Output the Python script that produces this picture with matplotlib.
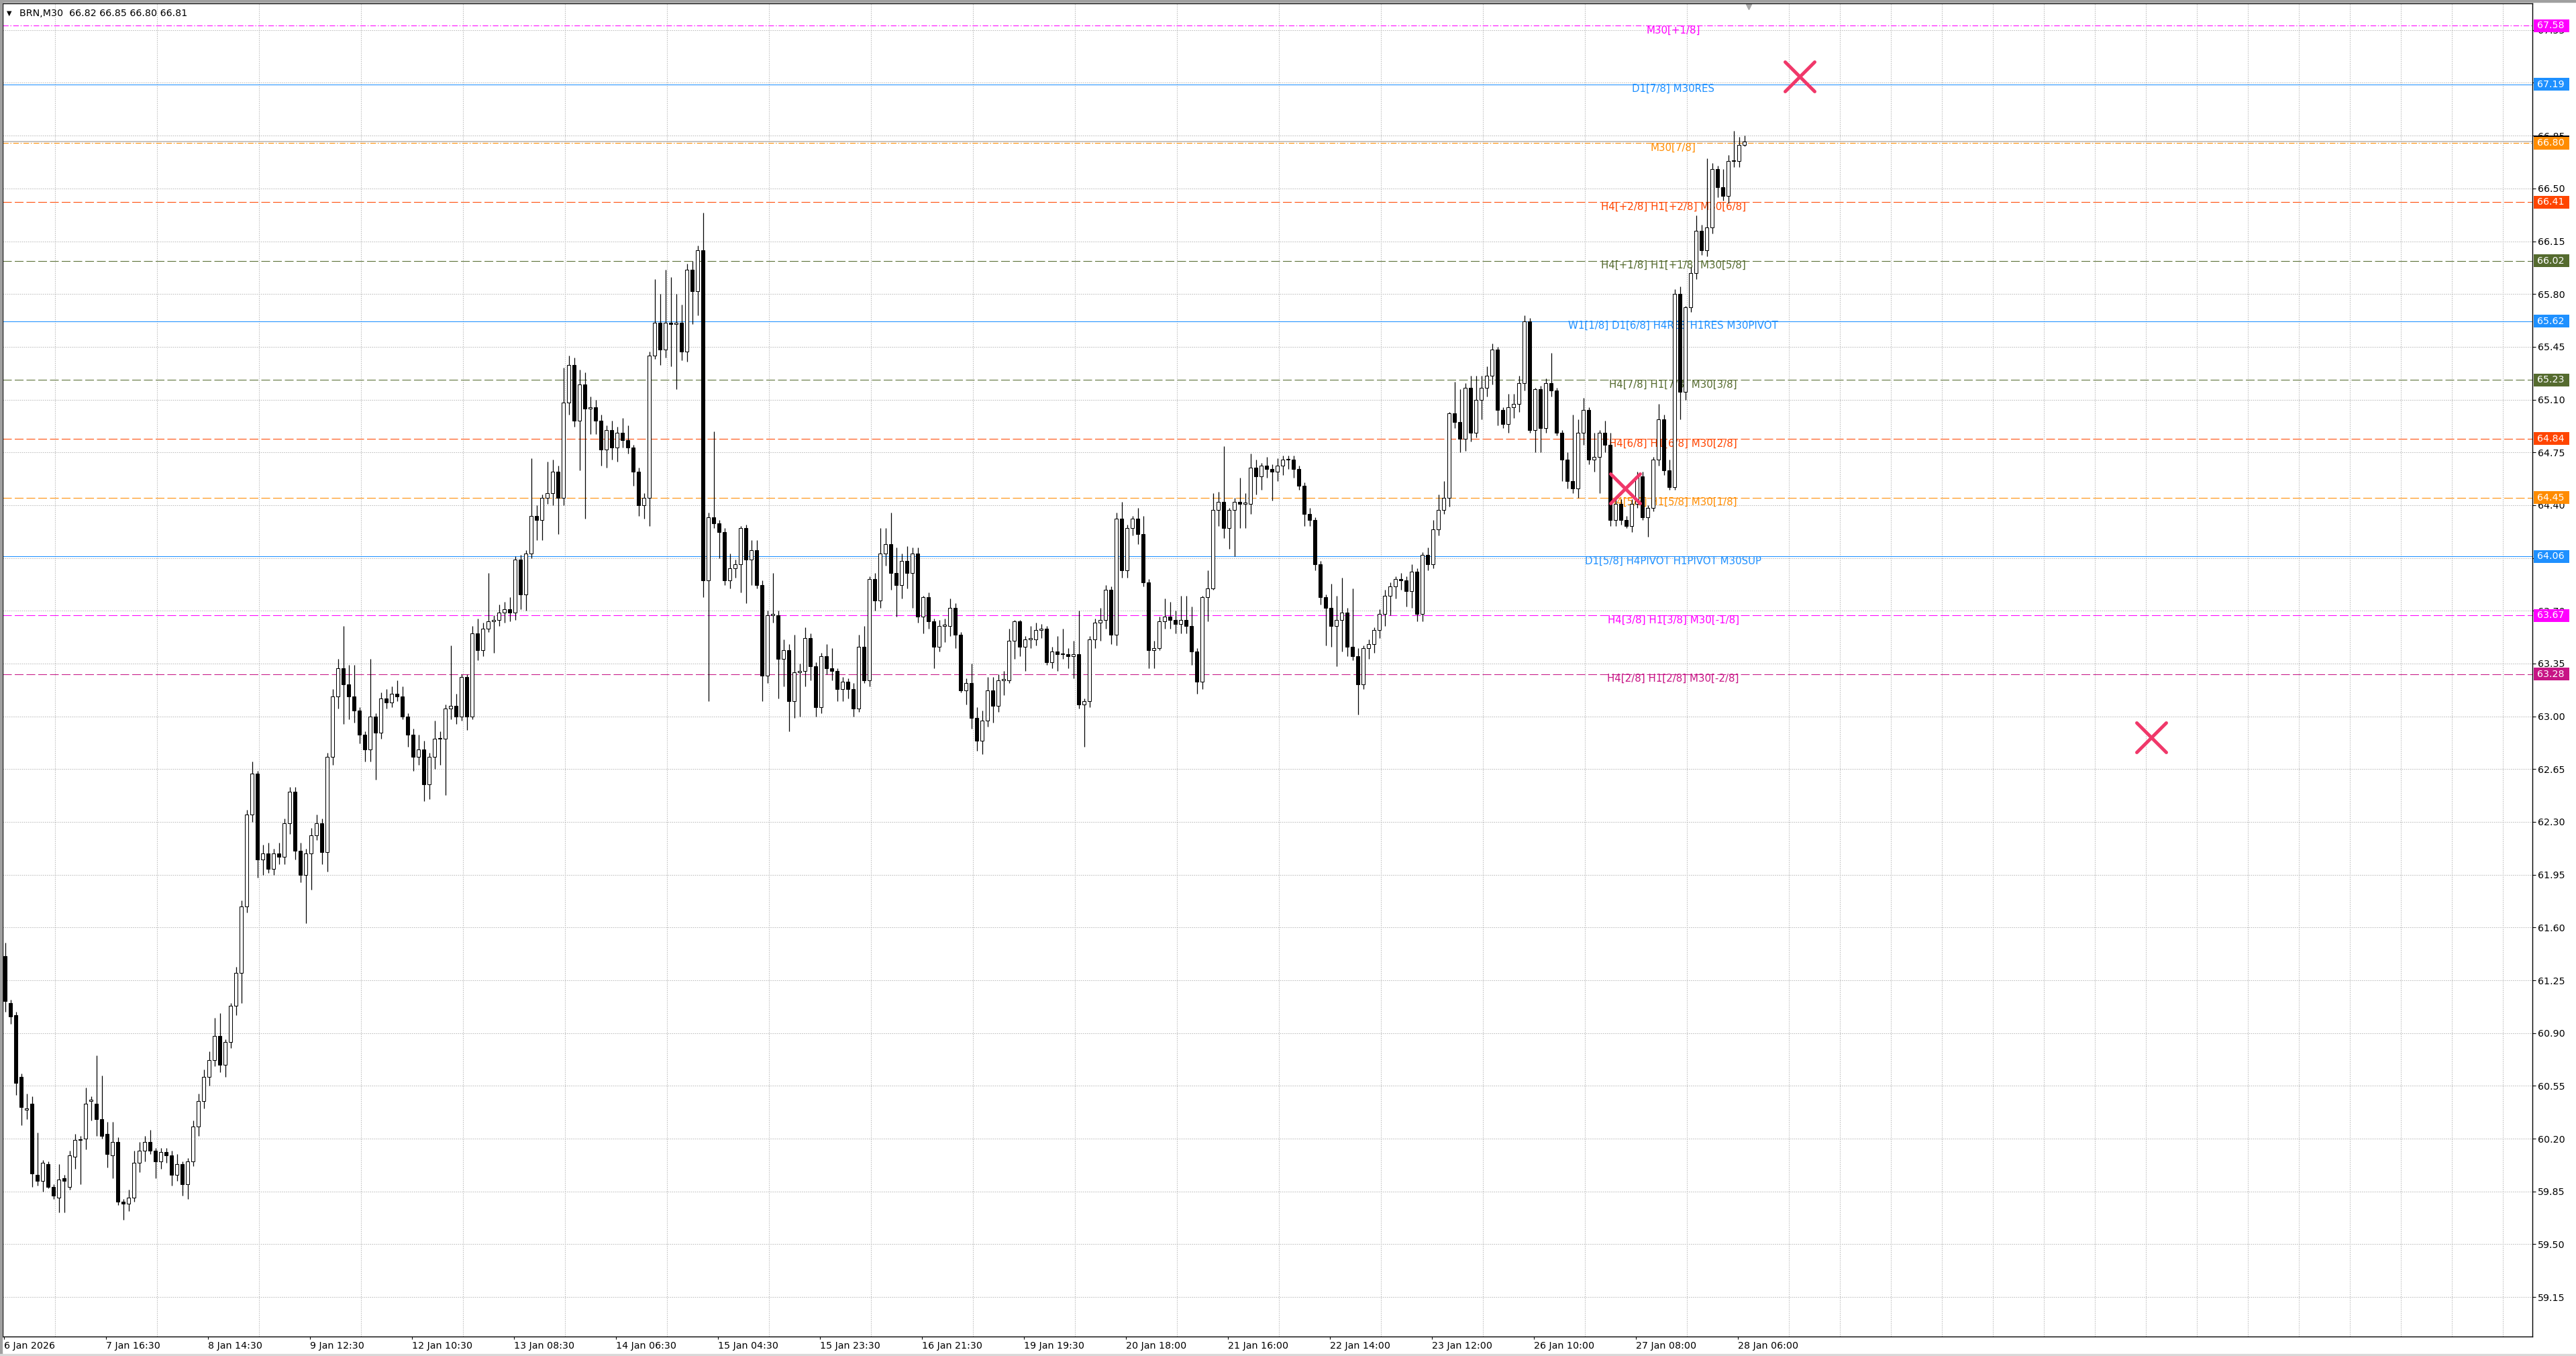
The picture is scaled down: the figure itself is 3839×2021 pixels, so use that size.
import numpy as np
import matplotlib.pyplot as plt
import matplotlib.transforms as mtransforms
from matplotlib.markers import MarkerStyle
from matplotlib.patches import Rectangle

plt.rcParams['font.family'] = ['DejaVu Sans']

# BRN M30 per candle
opens = [61.41, 61.10, 61.02, 60.61, 60.39, 60.43, 59.96, 59.92, 60.03, 59.88,
         59.81, 59.94, 59.88, 60.08, 60.19, 60.20, 60.45, 60.43, 60.33, 60.23,
         60.09, 60.18, 59.78, 59.77, 59.81, 60.04, 60.12, 60.18, 60.12, 60.05,
         60.11, 60.09, 59.96, 60.03, 59.90, 60.05, 60.28, 60.45, 60.61, 60.72,
         60.88, 60.69, 60.84, 61.08, 61.30, 61.74, 62.35, 62.62, 62.05, 62.09,
         61.99, 62.09, 62.07, 62.29, 62.50, 62.11, 61.95, 62.09, 62.21, 62.29,
         62.10, 62.73, 63.13, 63.32, 63.21, 63.13, 63.04, 62.88, 62.78, 63.00,
         62.89, 63.12, 63.09, 63.15, 63.13, 63.00, 62.88, 62.73, 62.78, 62.55,
         62.73, 62.85, 62.85, 63.05, 63.07, 63.00, 63.26, 63.00, 63.55, 63.44,
         63.58, 63.63, 63.64, 63.69, 63.71, 63.69, 64.04, 63.81, 64.08, 64.33,
         64.30, 64.45, 64.48, 64.62, 64.45, 65.08, 65.33, 64.96, 65.20, 65.04,
         65.05, 64.96, 64.77, 64.90, 64.78, 64.88, 64.83, 64.78, 64.62, 64.40,
         64.45, 65.39, 65.61, 65.43, 65.61, 65.60, 65.61, 65.42, 65.96, 65.82,
         66.09, 63.90, 64.32, 64.28, 64.22, 63.90, 63.98, 64.01, 64.25, 64.04,
         64.10, 63.87, 63.27, 63.67, 63.67, 63.38, 63.44, 63.10, 63.29, 63.30,
         63.52, 63.33, 63.06, 63.40, 63.32, 63.30, 63.18, 63.23, 63.18, 63.05,
         63.46, 63.24, 63.91, 63.77, 64.08, 64.14, 63.95, 63.87, 64.03, 63.95,
         64.08, 63.66, 63.79, 63.63, 63.46, 63.60, 63.60, 63.72, 63.54, 63.17,
         63.22, 62.99, 62.84, 62.97, 63.17, 63.07, 63.24, 63.24, 63.50, 63.63,
         63.46, 63.51, 63.51, 63.57, 63.58, 63.36, 63.43, 63.41, 63.41, 63.40,
         63.41, 63.08, 63.10, 63.51, 63.62, 63.64, 63.84, 63.54, 64.31, 63.97,
         64.25, 64.31, 64.21, 63.89, 63.44, 63.45, 63.63, 63.66, 63.64, 63.61,
         63.64, 63.60, 63.43, 63.23, 63.79, 63.85, 64.37, 64.42, 64.25, 64.37,
         64.42, 64.41, 64.41, 64.65, 64.59, 64.66, 64.64, 64.62, 64.66, 64.70,
         64.70, 64.64, 64.53, 64.34, 64.30, 64.01, 63.79, 63.72, 63.60, 63.64,
         63.69, 63.46, 63.40, 63.21, 63.45, 63.48, 63.57, 63.68, 63.80, 63.86,
         63.91, 63.90, 63.83, 63.96, 63.68, 64.07, 64.01, 64.24, 64.37, 64.45,
         65.01, 64.95, 64.84, 65.18, 64.88, 65.10, 65.18, 65.26, 65.43, 65.03,
         64.94, 65.05, 65.07, 65.21, 65.62, 64.90, 65.17, 64.91, 65.21, 65.16,
         64.88, 64.70, 64.56, 64.51, 64.88, 65.03, 64.70, 64.72, 64.88, 64.80,
         64.30, 64.41, 64.30, 64.26, 64.41, 64.59, 64.32, 64.38, 64.70, 64.97,
         64.63, 64.52, 65.80, 65.15, 65.71, 65.94, 66.22, 66.09, 66.24, 66.63,
         66.51, 66.45, 66.68, 66.68, 66.79]
highs = [61.50, 61.12, 61.04, 60.63, 60.50, 60.48, 60.24, 60.06, 60.05, 59.90,
         60.03, 59.96, 60.12, 60.23, 60.22, 60.54, 60.48, 60.75, 60.62, 60.31,
         60.31, 60.21, 59.80, 59.86, 60.12, 60.18, 60.22, 60.26, 60.14, 60.14,
         60.14, 60.12, 60.10, 60.05, 60.07, 60.32, 60.50, 60.66, 60.78, 61.00,
         61.03, 60.86, 61.10, 61.34, 61.78, 62.38, 62.70, 62.64, 62.15, 62.16,
         62.12, 62.16, 62.32, 62.53, 62.53, 62.16, 62.12, 62.26, 62.35, 62.32,
         62.76, 63.18, 63.38, 63.60, 63.34, 63.34, 63.06, 62.90, 63.38, 63.02,
         63.16, 63.18, 63.20, 63.24, 63.20, 63.02, 62.92, 62.88, 62.84, 62.76,
         62.97, 62.90, 63.08, 63.47, 63.15, 63.28, 63.28, 63.60, 63.65, 63.62,
         63.95, 63.67, 63.74, 63.76, 63.79, 64.06, 64.07, 64.10, 64.71, 64.40,
         64.47, 64.69, 64.70, 64.66, 65.31, 65.39, 65.38, 65.30, 65.28, 65.12,
         65.10, 65.00, 64.93, 64.96, 64.92, 64.98, 64.93, 64.80, 64.65, 64.48,
         65.42, 65.90, 65.80, 65.96, 65.91, 65.80, 65.73, 66.00, 66.02, 66.12,
         66.34, 64.35, 64.89, 64.30, 64.25, 64.08, 64.04, 64.26, 64.27, 64.17,
         64.17, 63.90, 63.70, 63.95, 63.70, 63.51, 63.48, 63.54, 63.35, 63.59,
         63.55, 63.36, 63.42, 63.48, 63.45, 63.32, 63.26, 63.25, 63.22, 63.54,
         63.60, 63.93, 63.95, 64.25, 64.25, 64.35, 64.12, 64.08, 64.13, 64.12,
         64.12, 63.80, 63.82, 63.65, 63.64, 63.65, 63.78, 63.75, 63.56, 63.25,
         63.35, 63.06, 63.04, 63.26, 63.26, 63.28, 63.30, 63.58, 63.64, 63.64,
         63.53, 63.60, 63.62, 63.61, 63.60, 63.46, 63.53, 63.58, 63.45, 63.50,
         63.70, 63.12, 63.53, 63.65, 63.72, 63.87, 63.86, 64.35, 64.42, 64.27,
         64.33, 64.38, 64.33, 63.91, 63.50, 63.66, 63.78, 63.76, 63.70, 63.80,
         63.80, 63.73, 63.45, 63.80, 63.97, 64.48, 64.49, 64.79, 64.38, 64.45,
         64.58, 64.48, 64.74, 64.70, 64.68, 64.72, 64.67, 64.71, 64.73, 64.73,
         64.73, 64.66, 64.55, 64.38, 64.32, 64.03, 63.81, 63.88, 63.80, 63.92,
         63.72, 63.85, 63.45, 63.47, 63.51, 63.59, 63.71, 63.84, 63.89, 63.93,
         63.95, 63.93, 64.01, 63.98, 64.09, 64.12, 64.30, 64.47, 64.56, 65.02,
         65.22, 65.17, 65.21, 65.26, 65.26, 65.26, 65.32, 65.47, 65.45, 65.05,
         65.14, 65.14, 65.26, 65.66, 65.64, 65.18, 65.19, 65.24, 65.41, 65.18,
         64.90, 64.75, 65.00, 64.97, 65.11, 65.05, 64.88, 64.90, 64.96, 64.88,
         64.44, 64.44, 64.33, 64.44, 64.62, 64.62, 64.40, 64.72, 65.07, 65.00,
         64.70, 65.83, 65.85, 65.72, 65.98, 66.32, 66.26, 66.70, 66.67, 66.65,
         66.63, 66.72, 66.88, 66.84, 66.85]
lows = [61.04, 60.96, 60.49, 60.29, 60.33, 59.88, 59.89, 59.85, 59.87, 59.80,
        59.71, 59.71, 59.86, 60.00, 59.90, 60.13, 60.32, 60.22, 60.20, 60.01,
        59.94, 59.76, 59.66, 59.72, 59.78, 59.98, 60.05, 60.10, 59.94, 60.00,
        60.04, 59.89, 59.92, 59.82, 59.80, 60.02, 60.22, 60.40, 60.55, 60.68,
        60.64, 60.61, 60.80, 61.02, 61.10, 61.70, 62.30, 61.93, 61.95, 61.96,
        61.95, 62.02, 62.02, 62.22, 62.05, 61.90, 61.63, 61.85, 62.18, 62.02,
        61.97, 62.68, 63.05, 62.95, 62.98, 62.96, 62.82, 62.70, 62.70, 62.58,
        62.85, 63.05, 63.06, 63.10, 62.98, 62.80, 62.64, 62.68, 62.44, 62.45,
        62.65, 62.68, 62.48, 62.98, 62.95, 62.97, 62.91, 62.98, 63.37, 63.40,
        63.56, 63.42, 63.60, 63.62, 63.63, 63.64, 63.71, 63.70, 64.05, 64.17,
        64.17, 64.41, 64.40, 64.21, 64.40, 65.00, 64.92, 64.63, 64.31, 64.87,
        64.87, 64.66, 64.65, 64.70, 64.69, 64.78, 64.74, 64.53, 64.33, 64.31,
        64.26, 65.37, 65.33, 65.38, 65.32, 65.17, 65.36, 65.35, 65.60, 65.66,
        63.79, 63.10, 64.25, 64.05, 63.87, 63.85, 63.92, 63.82, 63.75, 63.87,
        63.85, 63.10, 63.22, 63.62, 63.12, 63.20, 62.90, 62.99, 63.00, 63.20,
        63.24, 63.00, 63.02, 63.28, 63.24, 63.10, 63.10, 63.12, 63.00, 63.03,
        63.22, 63.20, 63.70, 63.72, 64.00, 63.84, 63.66, 63.78, 63.85, 63.72,
        63.62, 63.55, 63.58, 63.32, 63.43, 63.49, 63.53, 63.45, 63.16, 63.08,
        62.92, 62.77, 62.75, 62.93, 62.96, 63.03, 63.14, 63.22, 63.38, 63.40,
        63.30, 63.45, 63.47, 63.52, 63.34, 63.32, 63.30, 63.38, 63.32, 63.25,
        63.05, 62.80, 63.06, 63.45, 63.50, 63.58, 63.48, 63.47, 63.92, 63.92,
        64.20, 64.14, 63.86, 63.32, 63.32, 63.44, 63.58, 63.58, 63.55, 63.55,
        63.55, 63.34, 63.15, 63.18, 63.63, 63.84, 64.26, 64.18, 64.11, 64.06,
        64.25, 64.25, 64.34, 64.47, 64.50, 64.58, 64.43, 64.56, 64.60, 64.64,
        64.58, 64.50, 64.26, 64.26, 63.97, 63.74, 63.47, 63.46, 63.33, 63.43,
        63.40, 63.37, 63.01, 63.18, 63.38, 63.42, 63.52, 63.60, 63.67, 63.78,
        63.84, 63.73, 63.72, 63.63, 63.63, 63.97, 63.98, 64.20, 64.34, 64.39,
        64.91, 64.75, 64.76, 64.82, 64.85, 64.97, 65.12, 65.20, 64.93, 64.91,
        64.88, 64.98, 65.02, 65.16, 64.88, 64.75, 64.75, 64.88, 65.12, 64.86,
        64.56, 64.51, 64.48, 64.45, 64.80, 64.67, 64.62, 64.48, 64.75, 64.26,
        64.26, 64.27, 64.25, 64.22, 64.38, 64.30, 64.19, 64.36, 64.66, 64.60,
        64.50, 64.50, 64.97, 65.10, 65.68, 65.90, 66.06, 66.05, 66.20, 66.44,
        66.42, 66.40, 66.64, 66.64, 66.78]
closes = [61.11, 61.01, 60.57, 60.41, 60.40, 59.97, 59.92, 60.04, 59.88, 59.82,
          59.93, 59.92, 60.09, 60.19, 60.19, 60.43, 60.45, 60.33, 60.22, 60.10,
          60.18, 59.78, 59.77, 59.81, 60.04, 60.12, 60.18, 60.12, 60.05, 60.11,
          60.09, 59.96, 60.03, 59.90, 60.05, 60.28, 60.45, 60.61, 60.72, 60.88,
          60.69, 60.84, 61.08, 61.30, 61.74, 62.35, 62.62, 62.05, 62.09, 61.99,
          62.09, 62.07, 62.29, 62.50, 62.11, 61.95, 62.09, 62.21, 62.29, 62.10,
          62.73, 63.13, 63.32, 63.21, 63.13, 63.04, 62.88, 62.78, 63.00, 62.89,
          63.12, 63.09, 63.15, 63.13, 63.00, 62.88, 62.73, 62.78, 62.55, 62.73,
          62.85, 62.85, 63.05, 63.07, 63.00, 63.26, 63.00, 63.55, 63.44, 63.58,
          63.63, 63.64, 63.69, 63.71, 63.69, 64.04, 63.81, 64.08, 64.33, 64.30,
          64.45, 64.48, 64.62, 64.45, 65.08, 65.33, 64.96, 65.20, 65.04, 65.05,
          64.96, 64.77, 64.90, 64.78, 64.88, 64.83, 64.78, 64.62, 64.40, 64.45,
          65.39, 65.61, 65.43, 65.61, 65.60, 65.61, 65.42, 65.96, 65.82, 66.09,
          63.90, 64.32, 64.28, 64.22, 63.90, 63.98, 64.01, 64.25, 64.04, 64.10,
          63.87, 63.27, 63.67, 63.67, 63.38, 63.44, 63.10, 63.29, 63.30, 63.52,
          63.33, 63.06, 63.40, 63.32, 63.30, 63.18, 63.23, 63.18, 63.05, 63.46,
          63.24, 63.91, 63.77, 64.08, 64.14, 63.95, 63.87, 64.03, 63.95, 64.08,
          63.66, 63.79, 63.63, 63.46, 63.60, 63.60, 63.72, 63.54, 63.17, 63.22,
          62.99, 62.84, 62.97, 63.17, 63.07, 63.24, 63.24, 63.50, 63.63, 63.46,
          63.51, 63.51, 63.57, 63.58, 63.36, 63.43, 63.41, 63.41, 63.40, 63.41,
          63.08, 63.10, 63.51, 63.62, 63.64, 63.84, 63.54, 64.31, 63.97, 64.25,
          64.31, 64.21, 63.89, 63.44, 63.45, 63.63, 63.66, 63.64, 63.61, 63.64,
          63.60, 63.43, 63.23, 63.79, 63.85, 64.37, 64.42, 64.25, 64.37, 64.42,
          64.41, 64.41, 64.65, 64.59, 64.66, 64.64, 64.62, 64.66, 64.70, 64.70,
          64.64, 64.53, 64.34, 64.30, 64.01, 63.79, 63.72, 63.60, 63.64, 63.69,
          63.46, 63.40, 63.21, 63.45, 63.48, 63.57, 63.68, 63.80, 63.86, 63.91,
          63.90, 63.83, 63.96, 63.68, 64.07, 64.01, 64.24, 64.37, 64.45, 65.01,
          64.95, 64.84, 65.18, 64.88, 65.10, 65.18, 65.26, 65.43, 65.03, 64.94,
          65.05, 65.07, 65.21, 65.62, 64.90, 65.17, 64.91, 65.21, 65.16, 64.88,
          64.70, 64.56, 64.51, 64.88, 65.03, 64.70, 64.72, 64.88, 64.80, 64.30,
          64.41, 64.30, 64.26, 64.41, 64.59, 64.32, 64.38, 64.70, 64.97, 64.63,
          64.52, 65.80, 65.15, 65.71, 65.94, 66.22, 66.09, 66.24, 66.63, 66.51,
          66.45, 66.68, 66.68, 66.79, 66.81]

symbol = 'BRN,M30'
live_bar = [66.82, 66.85, 66.80, 66.81]

level_prices = [67.58, 67.19, 66.80, 66.41, 66.02, 65.62, 65.23, 64.84, 64.45, 64.06, 63.67, 63.28]
level_names = ['M30[+1/8]', 'D1[7/8] M30RES', 'M30[7/8]',
               'H4[+2/8] H1[+2/8] M30[6/8]', 'H4[+1/8] H1[+1/8] M30[5/8]',
               'W1[1/8] D1[6/8] H4RES H1RES M30PIVOT', 'H4[7/8] H1[7/8] M30[3/8]',
               'H4[6/8] H1[6/8] M30[2/8]', 'H4[5/8] H1[5/8] M30[1/8]',
               'D1[5/8] H4PIVOT H1PIVOT M30SUP', 'H4[3/8] H1[3/8] M30[-1/8]',
               'H4[2/8] H1[2/8] M30[-2/8]']
level_colors = ['#ff00ff', '#1e90ff', '#ff8c00', '#ff4500', '#556b2f', '#1e90ff',
                '#556b2f', '#ff4500', '#ff8c00', '#1e90ff', '#ff00ff', '#c71585']
level_kinds = ['dashdot', 'solid', 'dashdot', 'dash', 'dash', 'solid',
               'dash', 'dash', 'dash', 'solid', 'dash', 'dash']

price_ticks = [59.15, 59.50, 59.85, 60.20, 60.55, 60.90, 61.25, 61.60, 61.95, 62.30,
               62.65, 63.00, 63.35, 63.70, 64.05, 64.40, 64.75, 65.10, 65.45, 65.80,
               66.15, 66.50, 66.85, 67.20, 67.55]
time_labels = ['6 Jan 2026', '7 Jan 16:30', '8 Jan 14:30', '9 Jan 12:30', '12 Jan 10:30',
               '13 Jan 08:30', '14 Jan 06:30', '15 Jan 04:30', '15 Jan 23:30', '16 Jan 21:30',
               '19 Jan 19:30', '20 Jan 18:00', '21 Jan 16:00', '22 Jan 14:00', '23 Jan 12:00',
               '26 Jan 10:00', '27 Jan 08:00', '28 Jan 06:00']
bars_per_label = 38
bars_per_grid = 19

cross_bars = [669, 604, 800]
cross_prices = [67.24, 64.51, 62.86]
label_bar = 622

W, H = 3839, 2021
fig = plt.figure(figsize=(W / 100, H / 100), dpi=100)
fig.patch.set_facecolor('white')
ax = fig.add_axes([4 / W, 29 / H, 3770 / W, 1987 / H])
ax.set_xlim(-0.375, 942.1)
ax.set_ylim(58.888, 67.727)

# candles
o = np.array(opens); hi = np.array(highs); lo = np.array(lows); c = np.array(closes)
x = np.arange(len(o)) * 2 + 0.5
ax.vlines(x, lo, hi, color='black', lw=0.9, zorder=3)
faces = ['white' if cc >= oo else 'black' for oo, cc in zip(o, c)]
ax.bar(x, np.maximum(np.abs(c - o), 0.008), bottom=np.minimum(o, c), width=1.35,
       color=faces, edgecolor='black', linewidth=0.75, zorder=4)

# murrey levels
styles = {'dash': (0, (12.5, 4.3)), 'dashdot': (0, (8, 2.6, 1.4, 2.6)), 'solid': '-'}
ax.axhline(live_bar[3], color='#b4b4b4', lw=1.1, zorder=1.9)
for p, name, col, kind in zip(level_prices, level_names, level_colors, level_kinds):
    ax.axhline(p, color=col, lw=0.75, ls=styles[kind], zorder=2)
    ax.annotate(name, (label_bar, p), xytext=(0, -5), textcoords='offset points',
                ha='center', va='center', color=col, fontsize=10.8, zorder=2.5)

# price boxes on the right scale
trans = mtransforms.blended_transform_factory(ax.transAxes, ax.transData)
box_x = (3776 - 4) / 3770
box_w = 53 / 3770
box_h = 19 / 224.8


def price_box(p, col, z):
    ax.add_patch(Rectangle((box_x, p - box_h / 2), box_w, box_h, transform=trans,
                           facecolor=col, edgecolor='none', clip_on=False, zorder=z))
    ax.text((3781 - 4) / 3770, p, f'{p:.2f}', transform=trans, color='white',
            fontsize=10.3, va='center', ha='left', clip_on=False, zorder=z + 0.5)


price_box(live_bar[3], 'black', 5)
for p, col in zip(level_prices, level_colors):
    price_box(p, col, 6)

ax.plot(cross_bars, cross_prices, ls='none', marker=MarkerStyle('x', capstyle='round'),
        ms=31, mew=3.6, color='#f0386a', zorder=8)

# header and shift marker
ax.text(6 / 3770, 1 - 15 / 1987, '\u25bc', transform=ax.transAxes, fontsize=7,
        va='center', ha='left')
ax.text(25 / 3770, 1 - 15 / 1987, symbol + '  ' + ' '.join(f'{v:.2f}' for v in live_bar),
        transform=ax.transAxes, fontsize=10.3, va='center', ha='left')
top = mtransforms.blended_transform_factory(ax.transData, ax.transAxes)
ax.plot(len(o) * 2, 0.9975, marker='v', color='#a8a8a8', ms=6, transform=top, clip_on=False)

# axes, ticks, grid
ax.yaxis.tick_right()
ax.set_yticks(price_ticks)
ax.set_yticklabels([f'{t:.2f}' for t in price_ticks])
ax.set_xticks(np.arange(len(time_labels)) * bars_per_label)
ax.set_xticklabels(time_labels, ha='left')
ax.set_xticks(np.arange(0, 943, bars_per_grid), minor=True)
ax.tick_params(axis='x', which='major', length=3, width=0.8, pad=1.8, labelsize=10.3)
ax.tick_params(axis='x', which='minor', length=0)
ax.tick_params(axis='y', length=3.5, width=0.8, pad=2, labelsize=10.3)
ax.set_axisbelow(True)
ax.grid(True, axis='x', which='minor', color='#bdbdbd', lw=0.75, ls=(0, (1.5, 1.5)))
ax.grid(True, axis='y', which='major', color='#bdbdbd', lw=0.75, ls=(0, (1.5, 1.5)))
for s in ax.spines.values():
    s.set_color('black')
    s.set_linewidth(1.0)

# window frame
fig.add_artist(Rectangle((0, 1 - 3 / H), 1, 3 / H, transform=fig.transFigure, color='#a0a0a0'))
fig.add_artist(Rectangle((0, 0), 3 / W, 1, transform=fig.transFigure, color='#a0a0a0'))
fig.add_artist(Rectangle((0, 0), 1, 3 / H, transform=fig.transFigure, color='#d8d8d8'))

fig.savefig('out.png', dpi=100, facecolor='white')
